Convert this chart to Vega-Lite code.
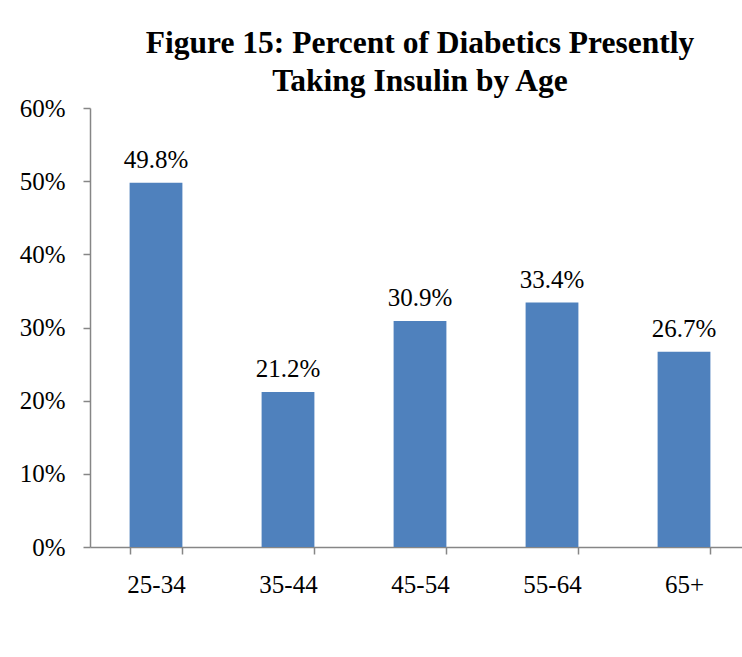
{
  "$schema": "https://vega.github.io/schema/vega-lite/v6.json",
  "width": 660,
  "height": 439,
  "autosize": {"type": "none"},
  "padding": {"left": 90, "top": 108, "right": 0, "bottom": 110},
  "background": "white",
  "config": {
    "view": {"stroke": null},
    "font": "Liberation Serif"
  },
  "title": {
    "text": ["Figure 15: Percent of Diabetics Presently", "Taking Insulin by Age"],
    "font": "Liberation Serif",
    "fontSize": 31.5,
    "fontWeight": "bold",
    "color": "black",
    "anchor": "middle",
    "lineHeight": 38,
    "offset": -1
  },
  "data": {
    "values": [
      {"age": "25-34", "pct": 0.498},
      {"age": "35-44", "pct": 0.212},
      {"age": "45-54", "pct": 0.309},
      {"age": "55-64", "pct": 0.334},
      {"age": "65+", "pct": 0.267}
    ]
  },
  "encoding": {
    "x": {
      "field": "age",
      "type": "nominal",
      "sort": null,
      "scale": {"paddingInner": 0.6, "paddingOuter": 0.3},
      "axis": {
        "title": null,
        "labelAngle": 0,
        "labelFont": "Liberation Serif",
        "labelFontSize": 25,
        "labelColor": "black",
        "labelPadding": 18,
        "tickBand": "extent",
        "tickSize": 7,
        "tickColor": "#868686",
        "domainColor": "#868686",
        "domainWidth": 1.5,
        "tickWidth": 1.5
      }
    },
    "y": {
      "field": "pct",
      "type": "quantitative",
      "scale": {"domain": [0, 0.6]},
      "axis": {
        "title": null,
        "values": [0, 0.1, 0.2, 0.3, 0.4, 0.5, 0.6],
        "format": ".0%",
        "grid": false,
        "labelFont": "Liberation Serif",
        "labelFontSize": 25,
        "labelColor": "black",
        "labelPadding": 18,
        "tickSize": 7,
        "tickColor": "#868686",
        "domainColor": "#868686",
        "domainWidth": 1.5,
        "tickWidth": 1.5
      }
    }
  },
  "layer": [
    {"mark": {"type": "bar", "color": "#4F81BD"}},
    {
      "mark": {"type": "text", "baseline": "bottom", "dy": -10, "fontSize": 25, "font": "Liberation Serif", "color": "black"},
      "encoding": {"text": {"field": "pct", "format": ".1%"}}
    }
  ]
}
